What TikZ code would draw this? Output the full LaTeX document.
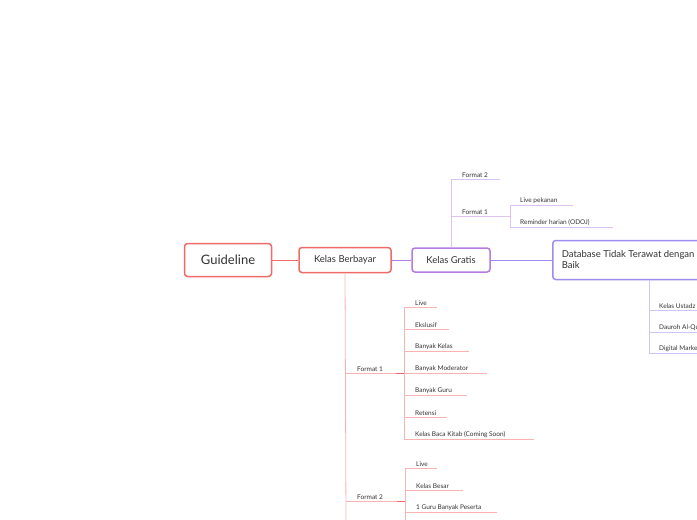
\documentclass[tikz,border=0pt]{standalone}
\usepackage{fontspec}
\setmainfont{Lato}
\usetikzlibrary{positioning}
\definecolor{redm}{HTML}{F06A6A}
\definecolor{redl}{HTML}{F8B4B4}
\definecolor{purm}{HTML}{B57BE0}
\definecolor{purl}{HTML}{DDC2F2}
\definecolor{blum}{HTML}{9D8CF2}
\definecolor{blul}{HTML}{CFC6F8}
\definecolor{ink}{HTML}{333333}

\begin{document}
\begin{tikzpicture}[
  x=1pt, y=-1pt,
  topic/.style={draw, rounded corners=3pt, line width=1.5pt, fill=white, text=ink, inner sep=0pt},
  leaf/.style={anchor=south west, inner sep=1pt, text=ink, font=\fontsize{6.5}{7}\selectfont},
]
\useasboundingbox (0,0) rectangle (697,520);
\clip (0,0) rectangle (697,520);

% main topics
\node [topic, draw=redm, minimum width=87, minimum height=33, font=\fontsize{13}{14}\selectfont] (guide) at (228,260) {Guideline};
\node [topic, draw=redm, minimum width=92, minimum height=25, font=\fontsize{9.5}{10}\selectfont] (paid) at (345,260) {Kelas Berbayar};
\node [topic, draw=purm, minimum width=78, minimum height=24, font=\fontsize{9.5}{10}\selectfont] (free) at (451,260) {Kelas Gratis};
\node [topic, draw=blum, minimum height=39, anchor=west, align=left, inner xsep=9pt, font=\fontsize{9.5}{11}\selectfont] (db) at (552,260) {Database Tidak Terawat dengan\\Baik};

\draw [redm, line width=1pt] (guide) -- (paid);
\draw [purm, line width=1pt] (paid) -- (free);
\draw [blum, line width=1pt] (free) -- (db);

% Kelas Gratis
\coordinate (fg2) at (500,179);
\coordinate (fg1) at (510,216);
\draw [purl, line width=0.8pt] (free.north) -- (451,179) -- (fg2);
\draw [purl, line width=0.8pt] (451,216) -- (fg1);
\node [leaf] (tf2) at (461,179) {Format 2};
\node [leaf] (tf1) at (461,216) {Format 1};
\draw [purl] (fg1) -- (510,205) -- (573,205);
\draw [purl] (510,216) -- (510,227) -- (613,227);
\node [leaf] (lp) at (519,205) {Live pekanan};
\node [leaf] (rh) at (519,227) {Reminder harian (ODOJ)};

% Database
\draw [blul, line width=0.8pt] (649,280) -- (649,353);
\foreach \y/\t in {310/Kelas Ustadz, 332/Dauroh Al-Quran, 353/Digital Marketing}
  \draw [blul] (649,\y) -- (697,\y) node [leaf] at (658,\y) {\t};

% Kelas Berbayar
\draw [redl, line width=0.8pt] (paid.south) -- (346,520);
\draw [redl, line width=0.8pt] (346,373) -- (404,373);
\draw [redl, line width=0.8pt] (346,501) -- (405,501);
\node [leaf] (pf1) at (356,373) {Format 1};
\node [leaf] (pf2) at (356,501) {Format 2};
\draw [redm, line width=0.8pt] (396,373) -- (404,373);
\draw [redm, line width=0.8pt] (397,501) -- (405,501);

\draw [redl] (404,307) -- (404,439);
\foreach \y/\e/\t in {307/437/Live, 329/449/Ekslusif, 351/469/Banyak Kelas,
  373/487/Banyak Moderator, 395/467/Banyak Guru, 417/447/Retensi,
  439/534/Kelas Baca Kitab (Coming Soon)}
  \draw [redl] (404,\y) -- (\e,\y) node [leaf] at (414,\y) {\t};

\draw [redl] (405,468) -- (405,520);
\foreach \y/\e/\t in {468/437/Live, 490/463/Kelas Besar, 512/497/1 Guru Banyak Peserta}
  \draw [redl] (405,\y) -- (\e,\y) node [leaf] at (415,\y) {\t};

\end{tikzpicture}
\end{document}
